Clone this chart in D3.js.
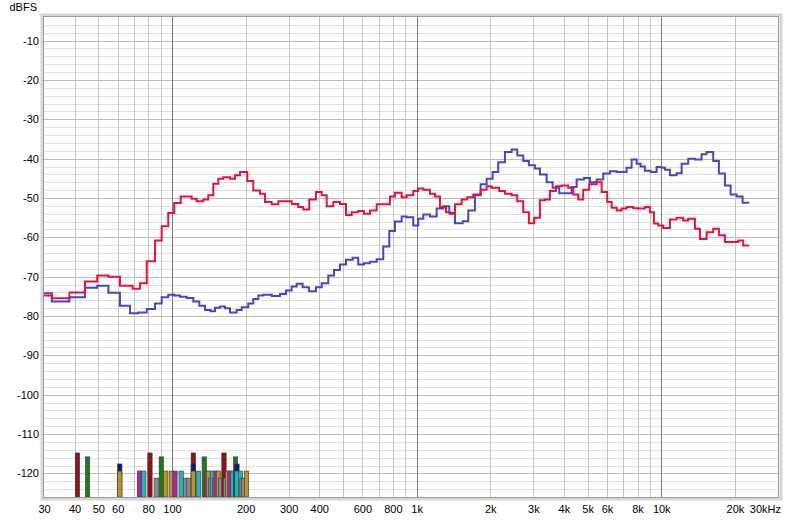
<!DOCTYPE html>
<html>
<head>
<meta charset="utf-8">
<script src="https://cdn.jsdelivr.net/npm/d3@7"></script>
<style>
  body { margin: 0; background: #fff; }
  svg { display: block; font-family: "Liberation Sans", Arial, sans-serif; }
  .tick text { font-size: 11px; fill: #000; }
</style>
</head>
<body>
<div id="chart"></div>
<script>
// frequency / level steps (Hz, dBFS)
const leftCh = [
  [30,-74.2],[32.3,-75.5],[38.1,-74.0],[44.1,-71.2],[49.5,-69.7],[55.0,-70.0],[61.3,-72.3],[69.1,-73.1],
  [74.0,-71.7],[78.9,-66.1],[85.3,-60.8],[90.8,-57.2],[96.6,-53.8],[102.2,-51.3],[108.6,-49.6],[120.4,-50.2],
  [126.2,-50.8],[134.3,-50.4],[140.8,-49.3],[147.6,-46.4],[154.7,-45.1],[162.1,-44.7],[172.7,-45.1],[181.0,-44.2],
  [189.7,-43.4],[203.2,-45.7],[215.0,-48.1],[229.0,-48.9],[240.0,-51.0],[255.7,-51.6],[272.2,-50.8],[308.6,-51.5],
  [328.3,-52.3],[344.1,-52.9],[364.1,-50.4],[388.0,-48.5],[409.4,-49.3],[429.1,-52.1],[456.6,-51.0],[486.2,-51.5],
  [514.5,-54.3],[542.8,-53.6],[577.4,-53.3],[609.3,-54.0],[644.7,-53.2],[686.6,-51.6],[778.3,-49.6],[815.8,-48.7],
  [868.8,-49.8],[910.7,-49.3],[969.1,-48.2],[1015.7,-47.6],[1064.7,-47.9],[1134,-48.9],[1188.6,-49.6],[1245.9,-52.3],
  [1318.3,-53.6],[1368.8,-54.0],[1434.8,-51.6],[1528.2,-50.4],[1610.9,-49.8],[1704.4,-49.1],[1827.2,-47.9],[1933.3,-47.0],
  [2026.4,-47.4],[2176.6,-48.2],[2296.6,-48.9],[2446,-49.3],[2578.4,-50.8],[2728.1,-53.6],[2877,-56.4],[3025.6,-55.0],
  [3192,-50.6],[3346.5,-50.4],[3507,-48.2],[3710.7,-47.0],[3914.7,-46.8],[4165.5,-47.4],[4366.5,-49.1],[4576.8,-50.4],
  [4797.3,-47.9],[5076,-46.5],[5443.5,-46.0],[5705.4,-48.5],[6013.5,-51.0],[6268,-52.5],[6570,-53.2],[6886.5,-52.7],
  [7218,-52.3],[7680,-52.6],[8050,-52.7],[8573,-52.3],[8985,-53.6],[9331,-56.5],[9716,-57.0],[10184,-57.6],
  [10846,-55.5],[11555,-55.0],[12295,-55.7],[12887,-55.3],[13725,-57.8],[14386,-60.4],[15320,-58.7],[16304,-57.8],
  [17201,-59.5],[18202,-61.2],[20629,-60.8],[21622,-62.1],[22876,-62.1]
];

const rightCh = [
  [30,-74.8],[32.3,-76.3],[38.1,-75.2],[44.1,-72.8],[49.5,-72.3],[55.0,-74.1],[61.3,-77.4],[67.4,-79.3],
  [72.9,-79.1],[78.9,-78.2],[85.3,-76.8],[90.8,-75.2],[96.6,-74.6],[102.2,-74.8],[107.9,-75.1],[114.9,-75.4],
  [122.3,-76.3],[129.4,-77.4],[136.5,-78.5],[144.0,-78.8],[149.9,-77.9],[157.2,-77.6],[164.7,-78.0],[172.7,-79.1],
  [183.9,-78.5],[192.8,-77.8],[205.1,-76.8],[215.0,-75.7],[225.4,-74.8],[236.2,-74.6],[255.7,-74.9],[276.5,-74.4],
  [292.5,-73.5],[308.6,-72.5],[323.3,-71.8],[342.1,-72.7],[363.0,-73.7],[388.0,-72.7],[409.4,-71.7],[435.6,-69.7],
  [459.6,-68.3],[486.2,-66.9],[514.5,-65.7],[547.9,-65.2],[577.4,-66.9],[609.3,-66.6],[644.7,-66.2],[686.6,-65.6],
  [730.7,-62.3],[773.2,-58.4],[815.8,-56.0],[868.8,-54.7],[910.7,-54.9],[969.1,-57.0],[1015.7,-55.3],[1064.7,-54.2],
  [1134,-54.7],[1207.8,-52.7],[1285.2,-52.1],[1359.8,-53.8],[1434.8,-56.4],[1542.6,-55.9],[1626.1,-53.2],[1731.3,-49.3],
  [1827.2,-46.5],[1933.3,-45.1],[2045.6,-43.4],[2156.2,-40.9],[2296.6,-38.3],[2446,-37.7],[2578.4,-39.2],[2728.1,-40.6],
  [2877,-41.7],[3045.7,-42.5],[3192,-44.0],[3400.5,-46.0],[3597.8,-47.4],[3828.2,-48.8],[4301,-47.2],[4508.5,-45.3],
  [4830,-44.9],[5109.6,-46.0],[5443.5,-45.3],[5792,-43.8],[6168,-43.2],[6570,-43.4],[7218,-42.3],[7566,-40.2],
  [7930,-41.3],[8234,-42.0],[8573,-43.1],[9046,-43.4],[9570,-42.1],[10035,-42.3],[10354,-42.8],[10846,-44.2],
  [11555,-43.7],[12111,-41.3],[12887,-40.0],[13725,-40.2],[14619,-38.9],[15320,-38.3],[16304,-40.6],[17201,-43.8],
  [18202,-46.8],[19207,-49.1],[20321,-49.6],[21501,-51.2],[22876,-51.2]
];

// marker bars at the bottom: frequency, top level, colour key (drawn in this order)
const markerFreq  = [41.1, 45.2, 61.2, 61.2, 73.7, 76.7, 81.3, 86.3, 90.5, 94.3, 99.4, 102.9, 109.1, 113.6, 117.4,
                     122.3, 122.3, 122.3, 128.4, 135.6, 139.1, 141.0, 144.0, 146.4, 149.2, 151.5, 154.9, 158.5, 163.2,
                     165.5, 168.7, 172.7, 177.6, 181.9, 184.4, 184.4, 190.6, 193.5, 196.1, 201.7];
const markerLevel = [-114.8, -115.8, -117.6, -119.4, -119.4, -119.4, -114.8, -121.2, -115.8, -119.4, -119.4, -119.4, -119.4, -121.2, -121.2,
                     -114.8, -117.6, -119.4, -119.4, -115.8, -119.4, -119.4, -121.2, -119.4, -121.2, -119.4, -119.4, -121.2, -114.8,
                     -121.2, -119.4, -119.4, -119.4, -115.8, -117.6, -119.4, -119.4, -121.2, -121.2, -119.4];
const markerColor = ["red", "green", "navy", "gold", "magenta", "cyan", "red", "gray", "green", "gold", "gold", "magenta", "cyan", "gray", "gray",
                     "red", "navy", "gold", "cyan", "green", "magenta", "gold", "gray", "cyan", "gray", "magenta", "gold", "gray", "red",
                     "gray", "gold", "magenta", "cyan", "green", "navy", "cyan", "cyan", "gray", "gray", "gold"];

const xTickVals = [30, 40, 50, 60, 80, 100, 200, 300, 400, 600, 800, 1000, 2000, 3000, 4000, 5000, 6000, 8000, 10000, 20000];
const yTickVals = [-10, -20, -30, -40, -50, -60, -70, -80, -90, -100, -110, -120];

const palette = {
  red: "#8e1216", green: "#1f7a1f", navy: "#14147e", gold: "#b8952a",
  magenta: "#ae22a6", cyan: "#22b6b8", gray: "#8a8a8a"
};

const width = 800, height = 521;
const plot = {left: 44, right: 778, top: 17, bottom: 497};

const x = d3.scaleLog().domain([30, 30000]).range([plot.left, plot.right]);
const y = d3.scaleLinear().domain([-126, -4]).range([plot.bottom, plot.top]);

const svg = d3.select("#chart").append("svg")
  .attr("width", width).attr("height", height);

// frame with a soft shadow
svg.append("rect")
  .attr("x", plot.left - 2).attr("y", plot.top - 2)
  .attr("width", plot.right - plot.left + 5).attr("height", plot.bottom - plot.top + 4)
  .attr("fill", "none").attr("stroke", "#d6d6d6").attr("stroke-width", 3);

const grid = svg.append("g");

// horizontal grid, every 2 dB, darker every 10 dB
grid.selectAll("line.h")
  .data(d3.range(-124, -4, 2))
  .join("line")
    .attr("x1", plot.left).attr("x2", plot.right)
    .attr("y1", d => Math.round(y(d)) + 0.5).attr("y2", d => Math.round(y(d)) + 0.5)
    .attr("stroke", d => d % 10 === 0 ? "#bcbcbc" : "#e0e0e0");

// vertical grid: every 1..9 multiple, decades darker
grid.selectAll("line.v")
  .data(x.ticks().filter(d => d > 30 && d < 30000))
  .join("line")
    .attr("y1", plot.top).attr("y2", plot.bottom)
    .attr("x1", d => Math.round(x(d)) + 0.5).attr("x2", d => Math.round(x(d)) + 0.5)
    .attr("stroke", d => [100, 1000, 10000].includes(d) ? "#7a7a7a" : "#c4c4c4");

// marker bars
svg.append("g")
  .selectAll("rect")
  .data(markerFreq.map((f, i) => ({f, level: markerLevel[i], color: markerColor[i]})))
  .join("rect")
    .attr("x", d => x(d.f) - 2.2)
    .attr("width", 4.4)
    .attr("y", d => y(d.level))
    .attr("height", d => plot.bottom - y(d.level))
    .attr("fill", d => palette[d.color])
    .attr("stroke", "#3a3a3a")
    .attr("stroke-width", 0.6);

// step lines
const line = d3.line()
  .x(d => x(d[0]))
  .y(d => y(d[1]))
  .curve(d3.curveStepAfter);

svg.append("path")
  .datum(rightCh)
  .attr("d", line)
  .attr("fill", "none")
  .attr("stroke", "#4646c8")
  .attr("stroke-width", 2);

svg.append("path")
  .datum(leftCh)
  .attr("d", line)
  .attr("fill", "none")
  .attr("stroke", "#e4123c")
  .attr("stroke-width", 2);

// inner border
svg.append("rect")
  .attr("x", plot.left - 0.5).attr("y", plot.top - 0.5)
  .attr("width", plot.right - plot.left + 1).attr("height", plot.bottom - plot.top + 1)
  .attr("fill", "none").attr("stroke", "#9c9c9c");

// axes (labels only)
const fmtHz = d => d >= 1000 ? (d / 1000) + "k" : d;

svg.append("g")
  .attr("transform", `translate(0, ${plot.bottom + 2})`)
  .call(d3.axisBottom(x).tickValues(xTickVals).tickFormat(fmtHz).tickSize(0).tickPadding(6))
  .call(g => g.select(".domain").remove());

svg.append("text")
  .attr("x", 781).attr("y", plot.bottom + 16)
  .attr("text-anchor", "end")
  .style("font-size", "11px")
  .text("30kHz");

svg.append("g")
  .attr("transform", `translate(${plot.left - 5}, 0)`)
  .call(d3.axisLeft(y).tickValues(yTickVals).tickFormat(d => d).tickSize(0).tickPadding(0))
  .call(g => g.select(".domain").remove());

svg.append("text")
  .attr("x", 37).attr("y", 11)
  .attr("text-anchor", "end")
  .style("font-size", "11px")
  .text("dBFS");
</script>
</body>
</html>
